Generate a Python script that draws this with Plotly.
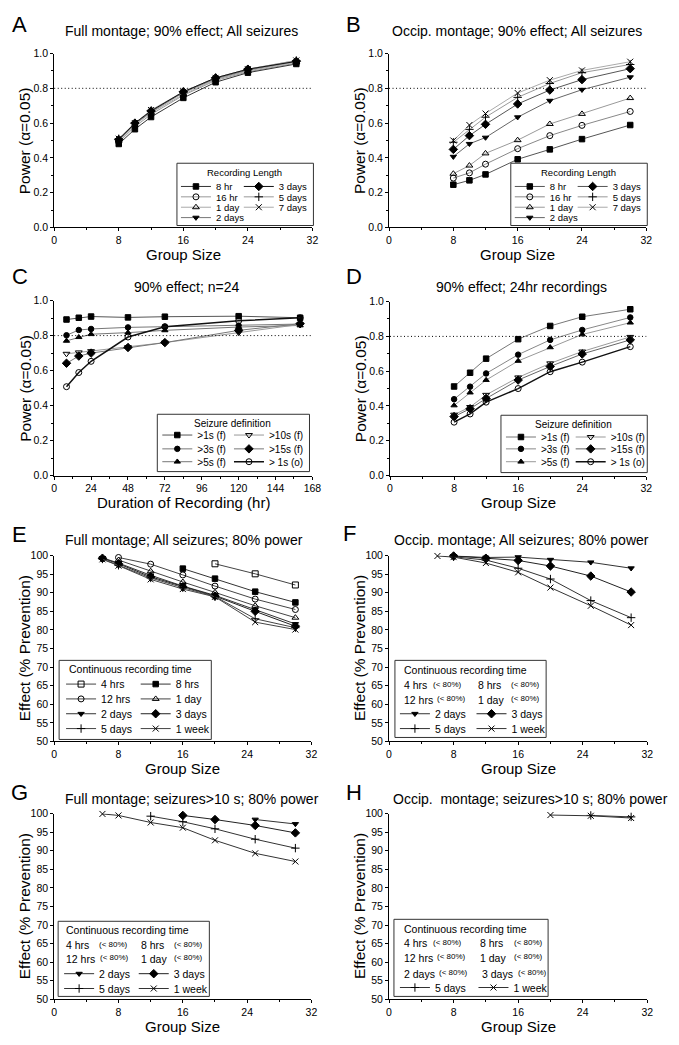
import plotly.graph_objects as go

PAGE_W, PAGE_H = 679, 1045
BODY = 8  # default page margin around the plot div
W, H = PAGE_W - 2 * BODY, PAGE_H - 2 * BODY
FONT = "Liberation Sans, Arial, Helvetica, sans-serif"

# ------------------------------------------------------------------ data
group_size = [8, 10, 12, 16, 20, 24, 30]
duration_hr = [8, 16, 24, 48, 72, 120, 160]

rec_names = ["8 hr", "16 hr", "1 day", "2 days", "3 days", "5 days", "7 days"]
A_8hr = [0.48, 0.565, 0.635, 0.745, 0.835, 0.89, 0.94]
A_16hr = [0.49, 0.58, 0.65, 0.76, 0.845, 0.895, 0.945]
A_1day = [0.50, 0.59, 0.66, 0.765, 0.85, 0.90, 0.95]
A_2days = [0.50, 0.595, 0.665, 0.775, 0.855, 0.905, 0.955]
A_3days = [0.505, 0.60, 0.67, 0.78, 0.86, 0.91, 0.955]
A_5days = [0.51, 0.60, 0.67, 0.78, 0.86, 0.91, 0.96]
A_7days = [0.51, 0.60, 0.675, 0.78, 0.86, 0.91, 0.96]

B_8hr = [0.246, 0.271, 0.305, 0.392, 0.449, 0.508, 0.589]
B_16hr = [0.284, 0.314, 0.364, 0.453, 0.528, 0.587, 0.667]
B_1day = [0.309, 0.356, 0.426, 0.502, 0.595, 0.653, 0.744]
B_2days = [0.407, 0.481, 0.517, 0.634, 0.729, 0.792, 0.864]
B_3days = [0.449, 0.528, 0.593, 0.710, 0.790, 0.850, 0.913]
B_5days = [0.49, 0.564, 0.634, 0.748, 0.828, 0.890, 0.937]
B_7days = [0.50, 0.589, 0.655, 0.773, 0.847, 0.903, 0.953]

def_names = ["&gt;1s (f)", "&gt;3s (f)", "&gt;5s (f)", "&gt;10s (f)", "&gt;15s (f)", "&gt; 1s (o)"]
C_1f = [0.892, 0.902, 0.909, 0.904, 0.908, 0.911, 0.902]
C_3f = [0.802, 0.832, 0.838, 0.847, 0.851, 0.857, 0.866]
C_5f = [0.770, 0.791, 0.808, 0.817, 0.830, 0.849, 0.858]
C_10f = [0.696, 0.704, 0.711, 0.734, 0.760, 0.817, 0.864]
C_15f = [0.642, 0.683, 0.700, 0.732, 0.760, 0.830, 0.868]
C_1o = [0.508, 0.589, 0.653, 0.792, 0.851, 0.885, 0.902]

D_1f = [0.512, 0.591, 0.672, 0.784, 0.860, 0.913, 0.956]
D_3f = [0.439, 0.511, 0.587, 0.695, 0.780, 0.837, 0.909]
D_5f = [0.403, 0.477, 0.549, 0.659, 0.737, 0.811, 0.879]
D_10f = [0.350, 0.394, 0.464, 0.564, 0.645, 0.713, 0.797]
D_15f = [0.339, 0.384, 0.443, 0.549, 0.627, 0.699, 0.780]
D_1o = [0.307, 0.354, 0.422, 0.500, 0.597, 0.652, 0.741]

crt_names = ["4 hrs", "8 hrs", "12 hrs", "1 day", "2 days", "3 days", "5 days", "1 week"]
E_x_4hrs = [20, 25, 30]
E_4hrs = [97.8, 95.1, 92.1]
E_x_8hrs = [16, 20, 25, 30]
E_8hrs = [96.5, 93.8, 90.3, 87.4]
E_x_12hrs = [8, 12, 16, 20, 25, 30]
E_12hrs = [99.5, 97.7, 94.8, 91.8, 88.3, 85.5]
E_x_1day = [8, 12, 16, 20, 25, 30]
E_1day = [98.8, 95.8, 92.9, 90.1, 86.5, 83.3]
E_x_long = [6, 8, 12, 16, 20, 25, 30]
E_2days = [99.4, 98.0, 94.7, 91.8, 89.3, 85.5, 81.6]
E_3days = [99.3, 97.8, 94.3, 91.6, 89.1, 85.0, 81.0]
E_5days = [99.1, 97.4, 94.0, 91.4, 89.0, 83.0, 80.6]
E_1week = [99.0, 97.3, 93.6, 91.0, 88.9, 82.1, 80.1]

F_x_2days = [8, 12, 16, 20, 25, 30]
F_2days = [99.9, 99.5, 99.6, 98.9, 98.2, 96.6]
F_x_3days = [8, 12, 16, 20, 25, 30]
F_3days = [99.9, 99.3, 98.7, 97.2, 94.5, 90.2]
F_x_5days = [8, 12, 16, 20, 25, 30]
F_5days = [99.7, 98.8, 96.6, 93.7, 87.9, 83.3]
F_x_1week = [6, 8, 12, 16, 20, 25, 30]
F_1week = [99.9, 99.6, 98.0, 95.5, 91.4, 86.5, 81.3]

G_x_2days = [25, 30]
G_2days = [98.4, 97.2]
G_x_3days = [16, 20, 25, 30]
G_3days = [99.5, 98.4, 96.8, 94.8]
G_x_5days = [12, 16, 20, 25, 30]
G_5days = [99.3, 97.8, 95.9, 93.1, 90.7]
G_x_1week = [6, 8, 12, 16, 20, 25, 30]
G_1week = [99.9, 99.5, 97.6, 96.2, 92.8, 89.3, 87.1]

H_x_5days = [25, 30]
H_5days = [99.5, 99.1]
H_x_1week = [20, 25, 30]
H_1week = [99.6, 99.4, 98.8]

panel_titles = {
    "A": "Full montage; 90% effect; All seizures",
    "B": "Occip. montage; 90% effect; All seizures",
    "C": "90% effect; n=24",
    "D": "90% effect; 24hr recordings",
    "E": "Full montage; All seizures; 80% power",
    "F": "Occip. montage; All seizures; 80% power",
    "G": "Full montage; seizures&gt;10 s; 80% power",
    "H": "Occip.  montage; seizures&gt;10 s; 80% power",
}
x_titles = {"A": "Group Size", "B": "Group Size", "C": "Duration of Recording (hr)",
            "D": "Group Size", "E": "Group Size", "F": "Group Size",
            "G": "Group Size", "H": "Group Size"}
y_title_power = "Power (\u03b1=0.05)"
y_title_effect = "Effect (% Prevention)"
legend_titles = {"A": "Recording Length", "B": "Recording Length",
                 "C": "Seizure definition", "D": "Seizure definition",
                 "E": "Continuous recording time", "F": "Continuous recording time",
                 "G": "Continuous recording time", "H": "Continuous recording time"}
below80 = "(&lt; 80%)"

# ------------------------------------------------------------------ layout geometry (page pixels)
P = {
    "A": ("x", "y", (52, 315, 48, 224)),
    "B": ("x2", "y2", (393, 655, 48, 224)),
    "C": ("x3", "y3", (52, 315, 298, 475)),
    "D": ("x4", "y4", (394, 655, 299, 475)),
    "E": ("x5", "y5", (52, 314, 556, 744)),
    "F": ("x6", "y6", (393, 656, 556, 744)),
    "G": ("x7", "y7", (52, 314, 817, 1005)),
    "H": ("x8", "y8", (393, 656, 817, 1005)),
}
# panel letter centre, title centre
HEAD = {
    "A": ((17, 19), (182, 25)), "B": ((357, 19), (523, 25)),
    "C": ((17, 274), (187, 284)), "D": ((357, 274), (528, 284)),
    "E": ((17, 535), (184, 540)), "F": ((353, 534), (528, 540)),
    "G": ((17, 796), (192, 802)), "H": ((357, 796), (537, 802)),
}
LG = {
    "A": dict(box=(177, 316, 159, 222), title=(246, 168.5), talign="center", cols=[181, 245], rows=[182.5, 193, 203.5, 214], fs=9.5),
    "B": dict(box=(517, 656, 159, 222), title=(586, 168.5), talign="center", cols=[521, 585], rows=[182.5, 193, 203.5, 214], fs=9.5),
    "C": dict(box=(157, 312, 413, 471), title=(234, 422), talign="center", cols=[162, 235], rows=[434, 448, 461], fs=10),
    "D": dict(box=(507, 656, 414, 472), title=(581, 423), talign="center", cols=[512, 583], rows=[436, 448, 461], fs=10),
    "E": dict(box=(57, 212, 662, 742), title=(65, 671), talign="left", cols=[64, 140], rows=[686, 701, 716, 731], fs=10.5),
    "F": dict(box=(399, 553, 662, 740), title=(406, 672), talign="left", cols=[404, 482], rows=[687, 702, 716, 731], fs=10.5),
    "G": dict(box=(56, 210, 926, 1002), title=(62, 935), talign="left", cols=[62, 138], rows=[950, 964, 979, 994], fs=10.5),
    "H": dict(box=(398, 555, 924, 1002), title=(406, 934), talign="left", cols=[404, 484], rows=[948, 963, 979, 993], fs=10.5),
}
TEXT_ROWS = [
    ("F", "4 hrs", 406, 436, 0), ("F", "8 hrs", 482, 515, 0),
    ("F", "12 hrs", 406, 440, 1), ("F", "1 day", 482, 515, 1),
    ("G", "4 hrs", 62, 96, 0), ("G", "8 hrs", 138, 172, 0),
    ("G", "12 hrs", 62, 97, 1), ("G", "1 day", 138, 172, 1),
    ("H", "4 hrs", 406, 436, 0), ("H", "8 hrs", 484, 518, 0),
    ("H", "12 hrs", 406, 440, 1), ("H", "1 day", 484, 518, 1),
    ("H", "2 days", 406, 442, 2), ("H", "3 days", 486, 522, 2),
]


def fx(p):
    return (p - BODY) / W


def fy(p):
    return 1 - (p - BODY) / H


fig = go.Figure()
layout = dict(width=W, height=H, margin=dict(l=0, r=0, t=0, b=0),
              paper_bgcolor="white", plot_bgcolor="white",
              font=dict(family=FONT, color="black"), hovermode=False)
annotations = []
shapes = []

for letter, (xa, ya, (x0, x1, y0, y1)) in P.items():
    xkey = "xaxis" + xa[1:]
    ykey = "yaxis" + ya[1:]
    is_power = letter in "ABCD"
    if letter == "C":
        xr, xd, xm = [0, 168], 24, 12
    else:
        xr, xd, xm = [0, 32], 8, 4
    common = dict(showline=True, linecolor="black", linewidth=1, ticks="outside", ticklen=3,
                  tickwidth=1, tickcolor="black", showgrid=False, zeroline=False, tickmode="linear",
                  tickfont=dict(family=FONT, size=10.5, color="black"), fixedrange=True)
    layout[xkey] = dict(domain=[fx(x0), fx(x1)], range=xr, anchor=ya, tick0=0, dtick=xd,
                        minor=dict(ticks="outside", ticklen=2, dtick=xm, tickcolor="black", showgrid=False),
                        **common)
    if is_power:
        layout[ykey] = dict(domain=[fy(y1), fy(y0)], range=[0, 1], anchor=xa, tick0=0, dtick=0.2,
                            tickformat=".1f",
                            minor=dict(ticks="outside", ticklen=2, dtick=0.1, tickcolor="black", showgrid=False),
                            **common)
        shapes.append(dict(type="line", xref=xa + " domain", x0=0, x1=1, yref=ya, y0=0.8, y1=0.8,
                           line=dict(color="black", width=1, dash="1px,2.5px")))
    else:
        layout[ykey] = dict(domain=[fy(y1), fy(y0)], range=[50, 100], anchor=xa, tick0=50, dtick=5,
                            **common)
    (lx, ly), (tx, ty) = HEAD[letter]
    annotations.append(dict(text=letter, x=fx(lx), y=fy(ly),
                            xref="paper", yref="paper", showarrow=False, xanchor="center", yanchor="middle",
                            font=dict(family=FONT, size=22, color="black")))
    annotations.append(dict(text=panel_titles[letter], x=fx(tx), y=fy(ty), xref="paper", yref="paper",
                            showarrow=False, xanchor="center", yanchor="middle",
                            font=dict(family=FONT, size=14, color="black")))
    annotations.append(dict(text=x_titles[letter], x=fx((x0 + x1) / 2), y=fy(y1 + 27.5), xref="paper", yref="paper",
                            showarrow=False, xanchor="center", yanchor="middle",
                            font=dict(family=FONT, size=15, color="black")))
    annotations.append(dict(text=y_title_power if is_power else y_title_effect, x=fx(x0 - 30),
                            y=fy((y0 + y1) / 2), xref="paper", yref="paper", textangle=-90,
                            showarrow=False, xanchor="center", yanchor="middle",
                            font=dict(family=FONT, size=15.5, color="black")))
    g = LG[letter]
    bx0, bx1, by0, by1 = g["box"]
    shapes.append(dict(type="rect", xref="paper", yref="paper", x0=fx(bx0), x1=fx(bx1), y0=fy(by1), y1=fy(by0),
                       line=dict(color="#333", width=1), fillcolor="rgba(0,0,0,0)"))
    annotations.append(dict(text=legend_titles[letter], x=fx(g["title"][0]), y=fy(g["title"][1]),
                            xref="paper", yref="paper", showarrow=False, xanchor=g["talign"], yanchor="middle",
                            font=dict(family=FONT, size=g["fs"], color="black")))

for (pl, label, lx, nx, row) in TEXT_ROWS:
    g = LG[pl]
    ry = g["rows"][row]
    annotations.append(dict(text=label, x=fx(lx), y=fy(ry), xref="paper", yref="paper", showarrow=False,
                            xanchor="left", yanchor="middle", font=dict(family=FONT, size=g["fs"], color="black")))
    annotations.append(dict(text=below80, x=fx(nx), y=fy(ry - 1), xref="paper", yref="paper", showarrow=False,
                            xanchor="left", yanchor="middle", font=dict(family=FONT, size=8, color="black")))

legend_defs = {}
counter = [0]


def add_series(panel, x, y, name, symbol, lcolor, lwidth=1, msize=5.5, slot=None):
    xa, ya, _ = P[panel]
    tr = dict(x=x, y=y, mode="lines+markers", name=name, xaxis=xa, yaxis=ya, cliponaxis=False,
              line=dict(color=lcolor, width=lwidth),
              marker=dict(symbol=symbol, size=msize, color="black", line=dict(color="black", width=1)))
    if slot is not None:
        g = LG[panel]
        counter[0] += 1
        lname = "legend" if counter[0] == 1 else "legend%d" % counter[0]
        col, row = slot
        legend_defs[lname] = dict(x=fx(g["cols"][col] - 5), y=fy(g["rows"][row]), xanchor="left", yanchor="middle",
                                  bgcolor="rgba(0,0,0,0)", borderwidth=0, tracegroupgap=0,
                                  font=dict(family=FONT, size=g["fs"], color="black"),
                                  itemclick=False, itemdoubleclick=False)
        tr["legend"] = lname
        tr["showlegend"] = True
    else:
        tr["showlegend"] = False
    fig.add_trace(go.Scatter(**tr))


# A
add_series("A", group_size, A_16hr, rec_names[1], "circle-open", "#999", msize=6, slot=(0, 1))
add_series("A", group_size, A_1day, rec_names[2], "triangle-up-open", "#aaa", msize=6, slot=(0, 2))
add_series("A", group_size, A_5days, rec_names[5], "cross-thin", "#999", msize=6, slot=(1, 1))
add_series("A", group_size, A_7days, rec_names[6], "x-thin", "#aaa", msize=6, slot=(1, 2))
add_series("A", group_size, A_2days, rec_names[3], "triangle-down", "#777", slot=(0, 3))
add_series("A", group_size, A_8hr, rec_names[0], "square", "#333", slot=(0, 0))
add_series("A", group_size, A_3days, rec_names[4], "diamond", "#111", msize=6.5, slot=(1, 0))
# B
add_series("B", group_size, B_8hr, rec_names[0], "square", "#555", slot=(0, 0))
add_series("B", group_size, B_16hr, rec_names[1], "circle-open", "#888", msize=6, slot=(0, 1))
add_series("B", group_size, B_1day, rec_names[2], "triangle-up-open", "#999", msize=6, slot=(0, 2))
add_series("B", group_size, B_2days, rec_names[3], "triangle-down", "#666", slot=(0, 3))
add_series("B", group_size, B_3days, rec_names[4], "diamond", "#555", msize=6.5, slot=(1, 0))
add_series("B", group_size, B_5days, rec_names[5], "cross-thin", "#999", msize=6, slot=(1, 1))
add_series("B", group_size, B_7days, rec_names[6], "x-thin", "#aaa", msize=6, slot=(1, 2))
# C
add_series("C", duration_hr, C_1f, def_names[0], "square", "#555", slot=(0, 0))
add_series("C", duration_hr, C_3f, def_names[1], "circle", "#777", slot=(0, 1))
add_series("C", duration_hr, C_5f, def_names[2], "triangle-up", "#777", slot=(0, 2))
add_series("C", duration_hr, C_10f, def_names[3], "triangle-down-open", "#999", msize=6, slot=(1, 0))
add_series("C", duration_hr, C_15f, def_names[4], "diamond", "#777", msize=6.5, slot=(1, 1))
add_series("C", duration_hr, C_1o, def_names[5], "circle-open", "#111", lwidth=1.5, msize=6, slot=(1, 2))
# D
add_series("D", group_size, D_1f, def_names[0], "square", "#777", slot=(0, 0))
add_series("D", group_size, D_3f, def_names[1], "circle", "#888", slot=(0, 1))
add_series("D", group_size, D_5f, def_names[2], "triangle-up", "#999", slot=(0, 2))
add_series("D", group_size, D_10f, def_names[3], "triangle-down-open", "#999", msize=6, slot=(1, 0))
add_series("D", group_size, D_15f, def_names[4], "diamond", "#666", msize=6.5, slot=(1, 1))
add_series("D", group_size, D_1o, def_names[5], "circle-open", "#111", lwidth=1.5, msize=6, slot=(1, 2))
# E
add_series("E", E_x_4hrs, E_4hrs, crt_names[0], "square-open", "#444", msize=6, slot=(0, 0))
add_series("E", E_x_8hrs, E_8hrs, crt_names[1], "square", "#333", slot=(1, 0))
add_series("E", E_x_12hrs, E_12hrs, crt_names[2], "circle-open", "#444", msize=6, slot=(0, 1))
add_series("E", E_x_1day, E_1day, crt_names[3], "triangle-up-open", "#444", msize=6, slot=(1, 1))
add_series("E", E_x_long, E_2days, crt_names[4], "triangle-down", "#333", slot=(0, 2))
add_series("E", E_x_long, E_3days, crt_names[5], "diamond", "#222", msize=6.5, slot=(1, 2))
add_series("E", E_x_long, E_5days, crt_names[6], "cross-thin", "#444", msize=6, slot=(0, 3))
add_series("E", E_x_long, E_1week, crt_names[7], "x-thin", "#444", msize=6, slot=(1, 3))
# F
add_series("F", F_x_2days, F_2days, crt_names[4], "triangle-down", "#333", slot=(0, 2))
add_series("F", F_x_3days, F_3days, crt_names[5], "diamond", "#222", msize=6.5, slot=(1, 2))
add_series("F", F_x_5days, F_5days, crt_names[6], "cross-thin", "#333", msize=6, slot=(0, 3))
add_series("F", F_x_1week, F_1week, crt_names[7], "x-thin", "#333", msize=6, slot=(1, 3))
# G
add_series("G", G_x_2days, G_2days, crt_names[4], "triangle-down", "#333", slot=(0, 2))
add_series("G", G_x_3days, G_3days, crt_names[5], "diamond", "#222", msize=6.5, slot=(1, 2))
add_series("G", G_x_5days, G_5days, crt_names[6], "cross-thin", "#333", msize=6, slot=(0, 3))
add_series("G", G_x_1week, G_1week, crt_names[7], "x-thin", "#333", msize=6, slot=(1, 3))
# H
add_series("H", H_x_5days, H_5days, crt_names[6], "cross-thin", "#333", msize=6, slot=(0, 3))
add_series("H", H_x_1week, H_1week, crt_names[7], "x-thin", "#333", msize=6, slot=(1, 3))

layout.update(legend_defs)
layout["annotations"] = annotations
layout["shapes"] = shapes
layout["showlegend"] = True
fig.update_layout(**layout)
fig.write_html("out.html")
